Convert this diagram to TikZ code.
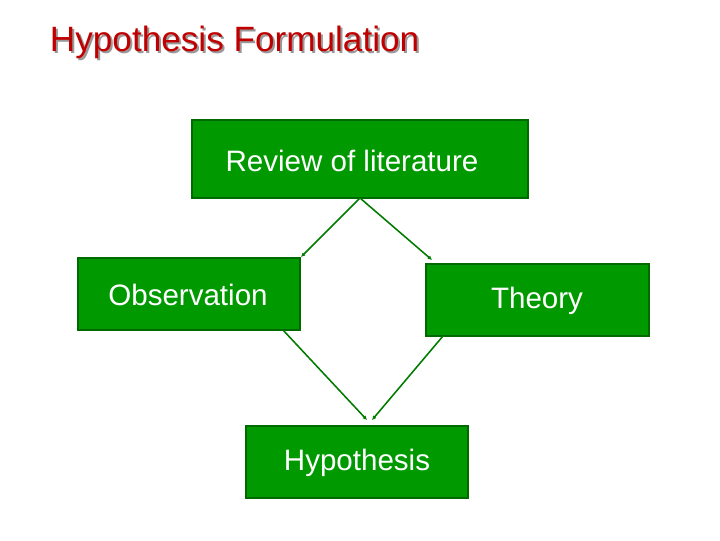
\documentclass[tikz,border=0pt]{standalone}
\usepackage{fontspec}
\usetikzlibrary{arrows.meta}
\setmainfont{Liberation Sans}
\definecolor{boxgreen}{HTML}{009A00}
\definecolor{edgegreen}{HTML}{006A00}
\definecolor{titlered}{HTML}{C00000}
\begin{document}
\begin{tikzpicture}[x=0.025cm,y=-0.025cm]
\tikzset{
    box/.style={draw=edgegreen,line width=1.2pt,fill=boxgreen,inner sep=0pt},
    label/.style={text=white,font=\fontsize{21}{24}\selectfont,inner sep=0pt},
    link/.style={draw=boxgreen!80!black,line width=1.1pt,-{Latex[length=3pt,width=3pt]}}
}
\useasboundingbox (0,0) rectangle (720,540);
\node [text=black!40,anchor=west,font=\fontsize{25}{28}\selectfont] at (47,44) {Hypothesis Formulation};
\node (title) [text=titlered,anchor=west,font=\fontsize{25}{28}\selectfont] at (45,42) {Hypothesis Formulation};

\path
    [box]
    (192,120) rectangle (528,198) node [midway] (review) {}
    (78,258) rectangle (300,330) node [midway] (obs) {}
    (426,264) rectangle (649,336) node [midway] (theory) {}
    (246,426) rectangle (468,498) node [midway] (hyp) {};
\path
    [label]
    (352,161) node (reviewtxt) {Review of literature}
    (188,295) node (obstxt) {Observation}
    (537,301) node (theorytxt) {Theory}
    (357,463) node (hyptxt) {Hypothesis};

\coordinate (rb) at (360,198);
\coordinate (ot) at (301,257);
\coordinate (tt) at (432,260);
\coordinate (ob) at (283,330);
\coordinate (tb) at (443,336);
\coordinate (ha) at (367,420);
\coordinate (hb) at (372,420);
\draw [link] (rb) -- (ot);
\draw [link] (rb) -- (tt);
\draw [link] (ob) -- (ha);
\draw [link] (tb) -- (hb);
\end{tikzpicture}
\end{document}
